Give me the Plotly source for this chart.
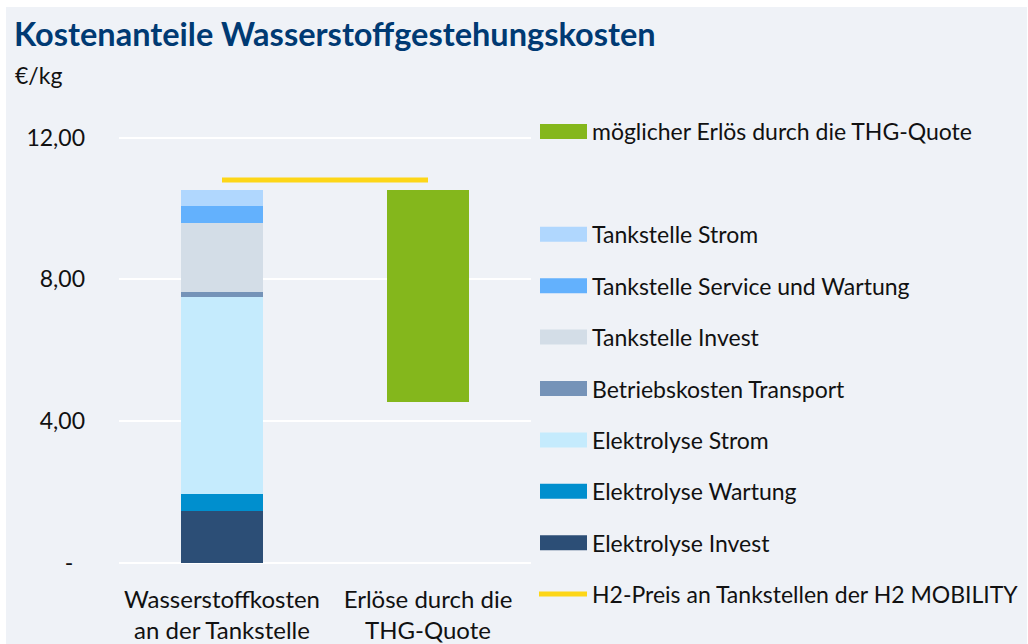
import plotly.graph_objects as go

# ---- data ----
categories = ["Wasserstoffkosten<br>an der Tankstelle", "Erlöse durch die<br>THG-Quote"]
stack_names = ["Elektrolyse Invest", "Elektrolyse Wartung", "Elektrolyse Strom",
               "Betriebskosten Transport", "Tankstelle Invest",
               "Tankstelle Service und Wartung", "Tankstelle Strom"]
stack_values = [1.47, 0.49, 5.53, 0.14, 1.97, 0.48, 0.45]
stack_colors = ["#2c4e76", "#008fce", "#c5ebfd", "#7593b8", "#d3dde7", "#63b1fd", "#b0d7fe"]

thg_name = "möglicher Erlös durch die THG-Quote"
thg_value = 6.00
thg_base = sum(stack_values) - thg_value
thg_color = "#84b71c"

price_name = "H2-Preis an Tankstellen der H2 MOBILITY"
price_value = 10.80
price_color = "#fdd617"

tick_vals = [0, 4, 8, 12]
tick_text = ["-\u00a0\u00a0", "4,00", "8,00", "12,00"]

# ---- layout geometry (pixels) ----
W, H = 1028, 644
ML, MR, MT, MB = 119, 497, 134, 81
PW, PH = W - ML - MR, H - MT - MB
FONT = "Lato"
BG = "#eff2f7"


def px(x):
    return (x - ML) / PW


def py(y):
    return (H - MB - y) / PH


fig = go.Figure()
for name, val, col in zip(stack_names, stack_values, stack_colors):
    fig.add_trace(go.Bar(x=[categories[0]], y=[val], name=name, marker_color=col,
                         marker_line_width=0, width=0.4, showlegend=False))
fig.add_trace(go.Bar(x=[categories[1]], y=[thg_value], base=[thg_base], name=thg_name,
                     marker_color=thg_color, marker_line_width=0, width=0.4, showlegend=False))
fig.add_trace(go.Scatter(x=categories, y=[price_value, price_value], mode="lines",
                         name=price_name, line=dict(color=price_color, width=5),
                         showlegend=False))

shapes = [dict(type="rect", xref="paper", yref="paper", x0=px(6), x1=px(1027), y0=py(644), y1=py(7),
               fillcolor=BG, line_width=0, layer="below")]
annotations = []

# custom legend: slots of 51.4 px, slot 1 left empty
legend_items = [(thg_name, thg_color, "rect", 0)]
order = list(range(len(stack_names)))[::-1]
for k, i in enumerate(order):
    legend_items.append((stack_names[i], stack_colors[i], "rect", k + 2))
legend_items.append((price_name, price_color, "line", len(stack_names) + 2))

for name, col, kind, slot in legend_items:
    yc = 131.5 + slot * 51.4
    if kind == "rect":
        shapes.append(dict(type="rect", xref="paper", yref="paper", x0=px(540), x1=px(587),
                           y0=py(yc + 7.5), y1=py(yc - 7.5), fillcolor=col, line_width=0))
    else:
        shapes.append(dict(type="line", xref="paper", yref="paper", x0=px(539), x1=px(587),
                           y0=py(yc), y1=py(yc), line=dict(color=col, width=5)))
    annotations.append(dict(xref="paper", yref="paper", x=px(590), y=py(yc), text=name,
                            showarrow=False, xanchor="left", yanchor="middle",
                            font=dict(family=FONT, size=23, color="#111111")))

annotations.append(dict(xref="paper", yref="paper", x=px(12), y=py(33), text="<b>Kostenanteile Wasserstoffgestehungskosten</b>",
                        showarrow=False, xanchor="left", yanchor="middle",
                        font=dict(family=FONT, size=32.5, color="#003a73")))
annotations.append(dict(xref="paper", yref="paper", x=px(13), y=py(75), text="€/kg",
                        showarrow=False, xanchor="left", yanchor="middle",
                        font=dict(family=FONT, size=23, color="#111111")))

fig.update_layout(
    width=W, height=H, autosize=False,
    margin=dict(l=ML, r=MR, t=MT, b=MB, pad=0, autoexpand=False),
    paper_bgcolor="white", plot_bgcolor="rgba(0,0,0,0)",
    barmode="stack", showlegend=False,
    font=dict(family=FONT, size=23, color="#111111"),
    shapes=shapes, annotations=annotations,
    xaxis=dict(type="category", range=[-0.5, 1.5], showgrid=False, showline=False,
               zeroline=False, ticks="", ticklabelstandoff=20, automargin=False,
               tickfont=dict(size=24, color="#111111")),
    yaxis=dict(range=[0, 12.1], tickvals=tick_vals, ticktext=tick_text,
               showgrid=True, gridcolor="white", gridwidth=2,
               zeroline=True, zerolinecolor="white", zerolinewidth=2,
               showline=False, ticks="", ticklabelstandoff=33, automargin=False,
               tickfont=dict(size=23, color="#111111")),
)

fig.write_html("out.html", config={"displayModeBar": False},
               post_script="document.body.style.margin='0';")
